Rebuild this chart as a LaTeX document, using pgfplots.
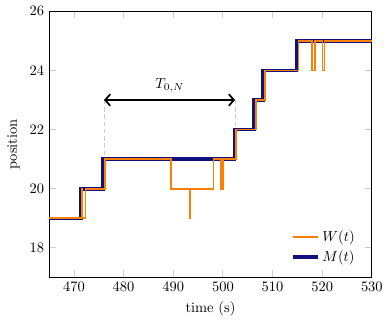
\documentclass[border=0pt]{standalone}
\usepackage{pgfplots}
\pgfplotsset{compat=1.18}
\usetikzlibrary{arrows.meta}
\definecolor{wcol}{RGB}{255,127,0}
\definecolor{mcol}{RGB}{16,16,128}
\begin{document}
\begin{tikzpicture}
\begin{axis}[
  scale only axis, width=223pt, height=184pt,
  xmin=465, xmax=530, ymin=17, ymax=26,
  xtick={470,480,...,530}, ytick={18,20,...,26},
  xlabel={time (s)}, ylabel={position},
  major tick style={gray!40, line width=0.6pt}, major tick length=5pt,
  axis line style={line width=0.7pt},
  legend style={draw=none, fill=none, at={(0.97,0.03)}, anchor=south east, font=\normalsize, row sep=1pt},
  legend cell align=left,
  reverse legend,
]
\addplot[const plot, mcol, line width=2.5pt] coordinates {
 (465,19) (471.37,20) (475.9,21) (502.3,22) (506.3,23) (508.1,24) (514.85,25) (530,25)
};
\addlegendentry{$M(t)$}
\addplot[const plot, wcol, line width=1.2pt] coordinates {
 (465,19) (471.5,20) (471.65,19) (472.35,20) (476.2,21) (489.6,20) (493.25,19) (493.45,20)
 (498.1,21) (499.6,20) (499.95,21) (502.7,22) (506.7,23) (508.5,24) (515.2,25)
 (518.0,24) (518.55,25) (520.07,24) (520.47,25) (530,25)
};
\addlegendentry{$W(t)$}
\draw[gray!40, line width=0.6pt, dash pattern=on 3pt off 2pt] (axis cs:476.05,23) -- (axis cs:476.05,21.1);
\draw[gray!40, line width=0.6pt, dash pattern=on 3pt off 2pt] (axis cs:502.45,23) -- (axis cs:502.45,22.1);
\draw[black, line width=1.2pt, {Straight Barb[length=3.5pt,width=8pt]}-{Straight Barb[length=3.5pt,width=8pt]}] (axis cs:476.05,23) -- (axis cs:502.45,23);
\node at (axis cs:489.3,23.5) {$T_{0,N}$};
\end{axis}
\path ([shift={(-1.7pt,-1.2pt)}]current bounding box.south west) ([shift={(1.7pt,1.2pt)}]current bounding box.north east);
\end{tikzpicture}
\end{document}
